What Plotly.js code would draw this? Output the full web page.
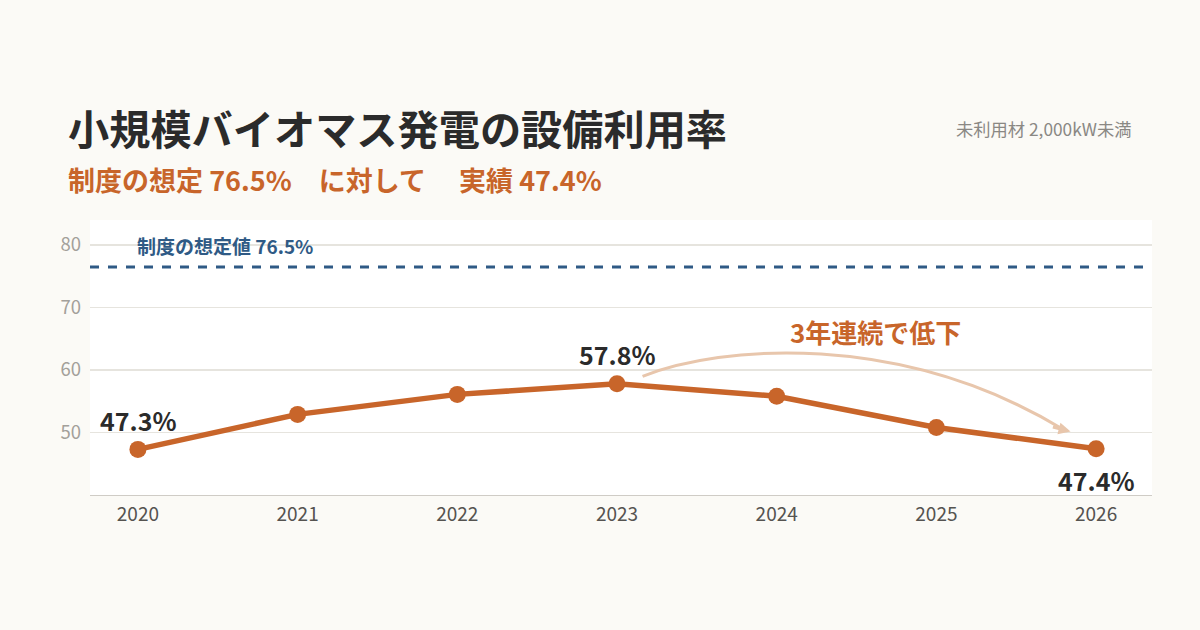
<!DOCTYPE html>
<html>
<head>
<meta charset="utf-8">
<script src="https://cdn.plot.ly/plotly-3.0.1.min.js"></script>
<style>
  html, body { margin: 0; padding: 0; background: #fbfaf6; }
  #chart { width: 1200px; height: 630px; }
</style>
</head>
<body>
<div id="chart"></div>
<script>
// 設備利用率 (%)
const years = [2020, 2021, 2022, 2023, 2024, 2025, 2026];
const rate = [47.3, 52.9, 56.1, 57.8, 55.8, 50.8, 47.4];
const target = 76.5;
const yTicks = [50, 60, 70, 80];

const ORANGE = '#c8652a';
const BLUE = '#2f5a85';
const INK = '#2b2b2b';
const FONT = '"Noto Sans CJK JP", "Noto Sans", sans-serif';

const line = {
  x: years, y: rate, mode: 'lines+markers', type: 'scatter',
  line: { color: ORANGE, width: 5.5 },
  marker: { color: ORANGE, size: 17 },
  hoverinfo: 'skip',
};

// 値ラベルは 2020 / 2023 / 2026 のみ
const labelled = [
  { i: 0, yshift: 29 },
  { i: 3, yshift: 30 },
  { i: 6, yshift: -31 },
];

const annotations = labelled.map((l) => ({
  x: years[l.i], y: rate[l.i], xref: 'x', yref: 'y',
  text: rate[l.i].toFixed(1) + '%', showarrow: false, yshift: l.yshift,
  font: { family: FONT, size: 25, color: INK, weight: 'bold' },
}));

annotations.push(
  {
    x: 2019.98, y: target, xref: 'x', yref: 'y', xanchor: 'left', yanchor: 'middle',
    yshift: 21, text: '制度の想定値 ' + target + '%', showarrow: false,
    font: { family: FONT, size: 19, color: BLUE, weight: 'bold' },
  },
  {
    x: 2024.62, y: 66.2, xref: 'x', yref: 'y', text: '3年連続で低下', showarrow: false,
    font: { family: FONT, size: 26, color: ORANGE, weight: 'bold' },
  },
  {
    x: 2025.84, y: 50.15, ax: 2025.72, ay: 50.95, xref: 'x', yref: 'y', axref: 'x', ayref: 'y',
    text: '', showarrow: true, arrowhead: 2, arrowsize: 0.8, arrowwidth: 3, arrowcolor: '#e8c6ac',
  },
  {
    x: -0.0226, y: 1.3385, xref: 'paper', yref: 'paper', xanchor: 'left', yanchor: 'middle',
    text: '小規模バイオマス発電の設備利用率', showarrow: false,
    font: { family: FONT, size: 41.2, color: INK, weight: 'bold' },
  },
  {
    x: -0.0226, y: 1.149, xref: 'paper', yref: 'paper', xanchor: 'left', yanchor: 'middle',
    text: '制度の想定 76.5%\u3000に対して\u3000 実績 47.4%', showarrow: false,
    font: { family: FONT, size: 27, color: ORANGE, weight: 'bold' },
  },
  {
    x: 0.982, y: 1.3345, xref: 'paper', yref: 'paper', xanchor: 'right', yanchor: 'middle',
    text: '未利用材 2,000kW未満', showarrow: false,
    font: { family: FONT, size: 17.3, color: '#8a8884' },
  }
);

const shapes = [
  {
    type: 'line', xref: 'paper', yref: 'y', x0: 0, x1: 1, y0: target, y1: target,
    line: { color: BLUE, width: 3, dash: 'dash' },
  },
  {
    type: 'path', xref: 'x', yref: 'y',
    path: 'M 2023.16,58.98 C 2023.65,63.96 2024.77,66.36 2025.8,50.4',
    line: { color: '#e8c6ac', width: 3 },
  },
];

const layout = {
  width: 1200, height: 630,
  paper_bgcolor: '#fbfaf6', plot_bgcolor: '#ffffff',
  margin: { l: 90, r: 48, t: 220, b: 135 },
  showlegend: false,
  font: { family: FONT },
  xaxis: {
    range: [2019.7, 2026.35], tickvals: years, ticktext: years.map(String),
    showgrid: false, zeroline: false, showline: true, linecolor: '#cfccc6', linewidth: 1,
    ticks: '', ticklabelstandoff: 2,
    tickfont: { family: FONT, size: 19, color: '#555350' },
  },
  yaxis: {
    range: [40, 84], tickvals: yTicks, ticktext: yTicks.map(String),
    showgrid: true, gridcolor: '#e6e4de', gridwidth: 1.5, zeroline: false, showline: false,
    ticks: '', ticklabelstandoff: 8,
    tickfont: { family: FONT, size: 18.5, color: '#a3a09a' },
  },
  annotations, shapes,
};

Plotly.newPlot('chart', [line], layout, { displayModeBar: false, staticPlot: true });
</script>
</body>
</html>
